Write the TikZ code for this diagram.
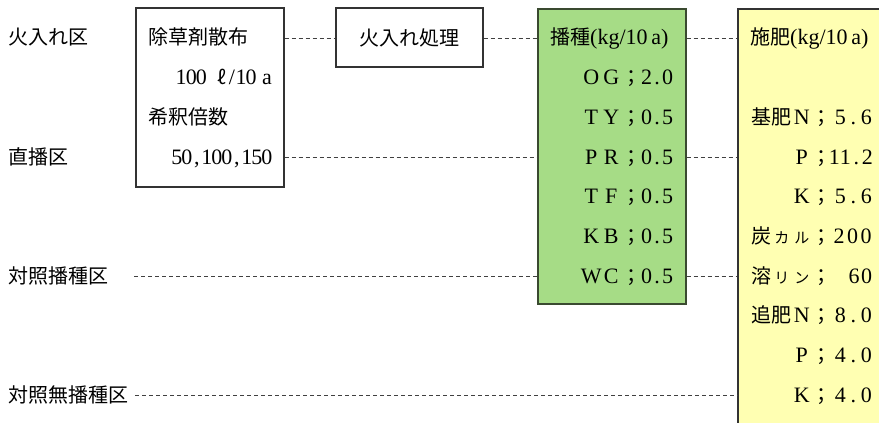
\documentclass[tikz,border=0pt]{standalone}
\usepackage{fontspec}
\setmainfont[Scale=1.1]{Liberation Serif}
\newfontfamily\jp{Noto Sans CJK JP}
\definecolor{seedfill}{HTML}{A6DC86}
\definecolor{seedline}{HTML}{3A4A30}
\definecolor{fertfill}{HTML}{FFFFB2}
\newcommand\fw[1]{\makebox[20pt]{#1}}
\newcommand\mono[2][10pt]{\def\mcw{#1}\monoA#2\relax}
\def\monoA#1{\ifx#1\relax\else\makebox[\mcw]{#1}\expandafter\monoA\fi}
\newcommand\smk{\fontsize{15}{18}\selectfont}
\begin{document}
\begin{tikzpicture}[x=1pt,y=-1pt,
  box/.style={draw=black!80, line width=1.1pt, inner sep=0pt},
  conn/.style={draw=black!75, line width=0.9pt, dash pattern=on 4pt off 3pt},
  txt/.style={inner sep=0pt, font=\fontsize{20}{24}\selectfont}]
\useasboundingbox (0,0) rectangle (879,423);
% boxes
\node[box, minimum width=148pt, minimum height=179pt] (herb) at (210,97.5) {};
\node[box, txt, minimum width=147pt, minimum height=59pt] (fire) at (409.5,37.5) {\jp 火入れ処理};
\node[box, draw=seedline, fill=seedfill, minimum width=148pt, minimum height=295pt] (seed) at (612,156.5) {};
\node[box, fill=fertfill, minimum width=172pt, minimum height=440pt] (fert) at (824,229) {};
% row coordinates
\coordinate (r0) at (0,38);
\coordinate (r3) at (0,157);
\coordinate (r6) at (0,276);
\coordinate (r9) at (0,395);
\coordinate (c6) at (134,276);
\coordinate (c9) at (135,395);
% left labels
\node[txt, anchor=base west] (lbl0) at (8,45) {\jp 火入れ区};
\node[txt, anchor=base west] (lbl1) at (8,164) {\jp 直播区};
\node[txt, anchor=base west] (lbl2) at (8,283) {\jp 対照播種区};
\node[txt, anchor=base west] (lbl3) at (8,402) {\jp 対照無播種区};
% herbicide box text
\node[txt, anchor=base west] (h0) at (148,45) {\jp 除草剤散布};
\node[txt, anchor=base east] (h1) at (272,84.7) {\mono{100}\hspace{11pt}{\jp\fontsize{19}{22}\selectfont ℓ}\hspace{3pt}/\hspace{1pt}\mono{10}\hspace{6pt}a};
\node[txt, anchor=base west] (h2) at (148,124.3) {\jp 希釈倍数};
\node[txt, anchor=base east] (h3) at (272,164) {\mono{50,100,150}};
% seeding box text
\node[txt, anchor=base west] (g0) at (550,45) {{\jp 播種}(kg/10\,a)};
\node[txt, anchor=base east] (g1) at (673,84.7) {\fw{O}\fw{G}\fw{\jp ；}\mono[10.5pt]{2.0}};
\node[txt, anchor=base east] (g2) at (673,124.3) {\fw{T}\fw{Y}\fw{\jp ；}\mono[10.5pt]{0.5}};
\node[txt, anchor=base east] (g3) at (673,164) {\fw{P}\fw{R}\fw{\jp ；}\mono[10.5pt]{0.5}};
\node[txt, anchor=base east] (g4) at (673,203.7) {\fw{T}\fw{F}\fw{\jp ；}\mono[10.5pt]{0.5}};
\node[txt, anchor=base east] (g5) at (673,243.3) {\fw{K}\fw{B}\fw{\jp ；}\mono[10.5pt]{0.5}};
\node[txt, anchor=base east] (g6) at (673,283) {\fw{W}\fw{C}\fw{\jp ；}\mono[10.5pt]{0.5}};
% fertilizer box text
\node[txt, anchor=base west] (f0) at (750,45) {{\jp 施肥}(kg/10\,a)};
\node[txt, anchor=base east] (f2) at (873,124.3) {{\jp 基肥}\fw{N}\fw{\jp ；}\makebox[41pt][r]{\mono[13pt]{5.6}}};
\node[txt, anchor=base east] (f3) at (873,164) {\fw{P}\fw{\jp ；}\makebox[41pt][r]{\mono[11pt]{11.2}}};
\node[txt, anchor=base east] (f4) at (873,203.7) {\fw{K}\fw{\jp ；}\makebox[41pt][r]{\mono[13pt]{5.6}}};
\node[txt, anchor=base east] (f5) at (873,243.3) {\fw{\jp 炭}\fw{\jp\smk カ}\fw{\jp\smk ル}\fw{\jp ；}\makebox[41pt][r]{\mono[13.5pt]{200}}};
\node[txt, anchor=base east] (f6) at (873,283) {\fw{\jp 溶}\fw{\jp\smk リ}\fw{\jp\smk ン}\fw{\jp ；}\makebox[41pt][r]{\mono[12.5pt]{60}}};
\node[txt, anchor=base east] (f7) at (873,322.7) {{\jp 追肥}\fw{N}\fw{\jp ；}\makebox[41pt][r]{\mono[13pt]{8.0}}};
\node[txt, anchor=base east] (f8) at (873,362.3) {\fw{P}\fw{\jp ；}\makebox[41pt][r]{\mono[13pt]{4.0}}};
\node[txt, anchor=base east] (f9) at (873,402) {\fw{K}\fw{\jp ；}\makebox[41pt][r]{\mono[13pt]{4.0}}};
% connectors
\draw[conn] (herb.east |- r0) -- (fire.west |- r0);
\draw[conn] (fire.east |- r0) -- (seed.west |- r0);
\draw[conn] (herb.east |- r3) -- (seed.west |- r3);
\draw[conn] (c6) -- (seed.west |- r6);
\draw[conn] (seed.east |- r0) -- (fert.west |- r0);
\draw[conn] (seed.east |- r3) -- (fert.west |- r3);
\draw[conn] (seed.east |- r6) -- (fert.west |- r6);
\draw[conn] (c9) -- (fert.west |- r9);
\end{tikzpicture}
\end{document}
